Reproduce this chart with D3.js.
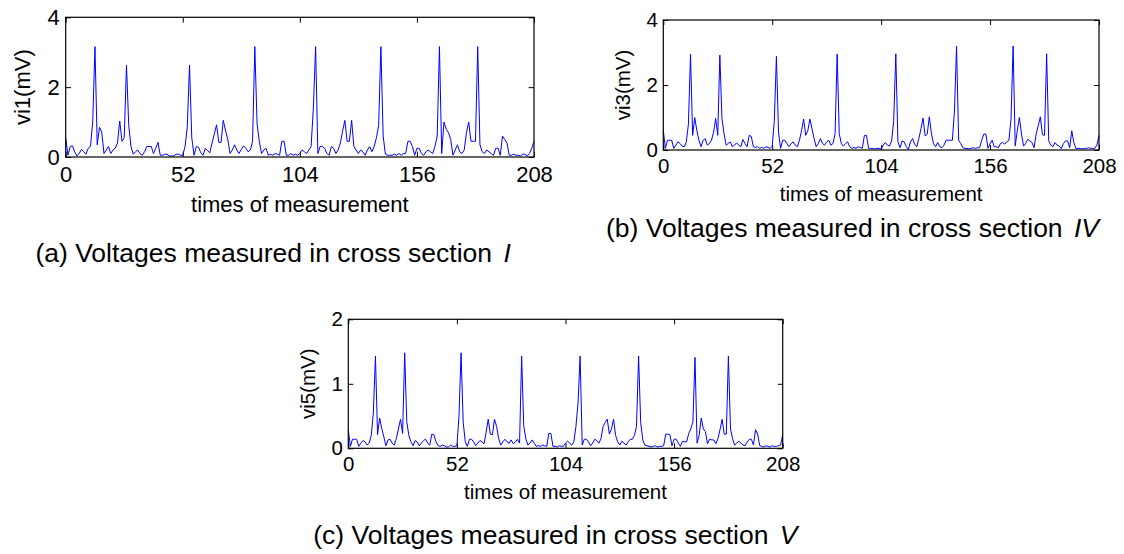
<!DOCTYPE html>
<html>
<head>
<meta charset="utf-8">
<script src="https://cdn.jsdelivr.net/npm/d3@7"></script>
<style>
  html, body { margin: 0; padding: 0; background: #fff; }
  svg { display: block; }
  text { font-family: "Liberation Sans", Arial, Helvetica, sans-serif; fill: #000; }
</style>
</head>
<body>
<svg id="chart"></svg>
<script>
const width = 1124;
const height = 554;

const xTicks = [0, 52, 104, 156, 208];
const yTicksA = [0, 2, 4];
const yTicksB = [0, 2, 4];
const yTicksC = [0, 1, 2];

const vi1 = [
  0.55, 0.05, 0.3, 0.32, 0.15, 0.03, 0.1, 0.22, 0.15, 0.08,
  0.25, 0.3, 1.0, 3.16, 0.35, 0.85, 0.72, 0.1, 0.2, 0.3,
  0.1, 0.2, 0.25, 0.4, 1.03, 0.45, 0.55, 2.63, 0.9, 0.3,
  0.08, 0.15, 0.2, 0.1, 0.05, 0.15, 0.3, 0.3, 0.3, 0.1,
  0.25, 0.42, 0.05, 0.05, 0.08, 0.08, 0.03, 0.03, 0.03, 0.08,
  0.08, 0.05, 0.05, 0.3, 0.85, 2.63, 0.55, 0.05, 0.3, 0.28,
  0.12, 0.05, 0.25, 0.18, 0.12, 0.4, 0.65, 0.92, 0.42, 0.42,
  1.05, 0.75, 0.5, 0.1, 0.2, 0.35, 0.2, 0.1, 0.22, 0.32,
  0.25, 0.15, 0.2, 0.45, 3.16, 0.95, 0.45, 0.1, 0.2, 0.25,
  0.05, 0.08, 0.05, 0.1, 0.08, 0.05, 0.45, 0.45, 0.05, 0.05,
  0.1, 0.05, 0.08, 0.05, 0.1, 0.2, 0.15, 0.1, 0.2, 0.3,
  1.4, 3.16, 0.1, 0.3, 0.3, 0.25, 0.1, 0.05, 0.3, 0.25,
  0.1, 0.2, 0.4, 0.75, 1.05, 0.45, 0.45, 1.05, 0.3, 0.2,
  0.1, 0.2, 0.15, 0.05, 0.2, 0.3, 0.15, 0.3, 0.55, 0.9,
  3.16, 0.6, 0.08, 0.05, 0.05, 0.05, 0.08, 0.05, 0.1, 0.05,
  0.1, 0.1, 0.45, 0.45, 0.3, 0.05, 0.25, 0.25, 0.1, 0.05,
  0.15, 0.2, 0.15, 0.1, 0.3, 0.6, 3.16, 0.1, 1.0, 0.8,
  0.7, 0.5, 0.05, 0.2, 0.35, 0.15, 0.1, 0.2, 0.7, 1.0,
  0.45, 0.45, 0.45, 3.16, 0.35, 0.15, 0.1, 0.2, 0.15, 0.1,
  0.05, 0.25, 0.25, 0.05, 0.6, 0.5, 0.4, 0.05, 0.05, 0.08,
  0.05, 0.05, 0.03, 0.08, 0.08, 0.03, 0.1, 0.25, 0.45
];

const vi3 = [
  0.6, 0.05, 0.3, 0.3, 0.3, 0.05, 0.15, 0.25, 0.2, 0.12,
  0.1, 0.25, 0.8, 2.95, 0.45, 1.0, 0.6, 0.3, 0.1, 0.3,
  0.35, 0.15, 0.2, 0.3, 0.55, 0.97, 0.45, 2.92, 0.97, 0.5,
  0.15, 0.2, 0.25, 0.1, 0.15, 0.22, 0.15, 0.1, 0.32, 0.2,
  0.1, 0.45, 0.42, 0.1, 0.08, 0.1, 0.05, 0.08, 0.05, 0.1,
  0.08, 0.05, 0.12, 0.9, 2.88, 0.55, 0.05, 0.3, 0.3, 0.2,
  0.1, 0.2, 0.25, 0.15, 0.1, 0.3, 0.6, 0.95, 0.45, 0.6,
  0.95, 0.65, 0.35, 0.1, 0.2, 0.35, 0.2, 0.15, 0.25, 0.3,
  0.15, 0.2, 0.5, 2.95, 0.5, 0.2, 0.12, 0.2, 0.25, 0.1,
  0.05, 0.08, 0.05, 0.1, 0.08, 0.05, 0.45, 0.45, 0.05, 0.05,
  0.05, 0.03, 0.05, 0.05, 0.03, 0.15, 0.23, 0.15, 0.12, 0.28,
  0.9, 2.96, 0.25, 0.07, 0.28, 0.25, 0.1, 0.02, 0.25, 0.35,
  0.18, 0.1, 0.35, 0.65, 0.98, 0.43, 0.49, 1.02, 0.5, 0.2,
  0.1, 0.23, 0.1, 0.07, 0.15, 0.3, 0.3, 0.3, 0.3, 1.2,
  3.2, 0.3, 0.2, 0.07, 0.05, 0.05, 0.03, 0.05, 0.07, 0.05,
  0.07, 0.07, 0.3, 0.49, 0.49, 0.05, 0.2, 0.3, 0.1, 0.1,
  0.07, 0.2, 0.23, 0.18, 0.25, 0.3, 0.95, 3.2, 0.12, 0.6,
  1.0, 0.49, 0.12, 0.2, 0.33, 0.28, 0.23, 0.07, 0.49, 0.75,
  1.02, 0.47, 0.45, 2.96, 0.28, 0.15, 0.1, 0.23, 0.15, 0.12,
  0.04, 0.2, 0.28, 0.28, 0.07, 0.59, 0.23, 0.04, 0.05, 0.05,
  0.03, 0.05, 0.05, 0.07, 0.05, 0.05, 0.05, 0.15, 0.45
];

const vi5 = [
  0.28, 0.03, 0.14, 0.14, 0.14, 0.03, 0.08, 0.12, 0.1, 0.05,
  0.08, 0.2, 0.55, 1.43, 0.21, 0.47, 0.31, 0.18, 0.04, 0.13,
  0.14, 0.08, 0.05, 0.15, 0.3, 0.45, 0.23, 1.48, 0.41, 0.2,
  0.1, 0.04, 0.12, 0.1, 0.04, 0.08, 0.12, 0.14, 0.08, 0.05,
  0.22, 0.21, 0.1, 0.04, 0.03, 0.05, 0.04, 0.02, 0.02, 0.05,
  0.03, 0.03, 0.04, 0.5, 1.48, 0.41, 0.1, 0.03, 0.14, 0.14,
  0.1, 0.04, 0.08, 0.12, 0.1, 0.07, 0.25, 0.45, 0.22, 0.21,
  0.45, 0.34, 0.15, 0.05, 0.1, 0.14, 0.1, 0.08, 0.13, 0.07,
  0.1, 0.14, 0.08, 1.43, 0.35, 0.15, 0.05, 0.08, 0.13, 0.08,
  0.03, 0.04, 0.03, 0.05, 0.04, 0.03, 0.23, 0.23, 0.03, 0.03,
  0.02, 0.04, 0.03, 0.03, 0.08, 0.11, 0.08, 0.05, 0.1, 0.34,
  0.7, 1.43, 0.05, 0.14, 0.14, 0.1, 0.04, 0.08, 0.14, 0.12,
  0.08, 0.15, 0.34, 0.4, 0.45, 0.22, 0.3, 0.45, 0.2, 0.1,
  0.05, 0.11, 0.08, 0.05, 0.1, 0.14, 0.14, 0.2, 0.34, 1.43,
  0.4, 0.13, 0.05, 0.04, 0.03, 0.02, 0.03, 0.04, 0.02, 0.03,
  0.03, 0.04, 0.22, 0.22, 0.21, 0.04, 0.14, 0.14, 0.08, 0.03,
  0.11, 0.1, 0.1, 0.23, 0.3, 0.41, 1.41, 0.08, 0.2, 0.47,
  0.3, 0.26, 0.07, 0.14, 0.13, 0.13, 0.07, 0.15, 0.29, 0.45,
  0.22, 0.22, 1.43, 0.3, 0.15, 0.05, 0.08, 0.11, 0.08, 0.05,
  0.04, 0.1, 0.14, 0.14, 0.05, 0.29, 0.22, 0.04, 0.03, 0.02,
  0.04, 0.03, 0.02, 0.04, 0.03, 0.03, 0.04, 0.05, 0.21
];

const xLabel = "times of measurement";

// panel layout (pixel boxes of each plot frame)
const panels = [
  { values: vi1, yMax: 4, yTicks: yTicksA, yLabel: "vi1(mV)",
    left: 65.7, top: 17.3, w: 468.3, h: 139.7, font: 22, s: 1.075 },
  { values: vi3, yMax: 4, yTicks: yTicksB, yLabel: "vi3(mV)",
    left: 663.3, top: 20, w: 435.7, h: 130, font: 20.5, s: 1 },
  { values: vi5, yMax: 2, yTicks: yTicksC, yLabel: "vi5(mV)",
    left: 348.3, top: 319.3, w: 434.4, h: 129, font: 20.5, s: 1 }
];

const captions = [
  { text: "(a) Voltages measured in cross section ", num: "I", x: 35.4, y: 261.5 },
  { text: "(b) Voltages measured in cross section ", num: "IV", x: 606, y: 237.3 },
  { text: "(c) Voltages measured in cross section ", num: "V", x: 313.3, y: 544 }
];

const svg = d3.select("#chart")
  .attr("width", width)
  .attr("height", height)
  .attr("viewBox", [0, 0, width, height]);

svg.append("rect")
  .attr("width", width)
  .attr("height", height)
  .attr("fill", "#fff");

function drawPanel(p) {
  const x = d3.scaleLinear().domain([0, 208]).range([0, p.w]);
  const y = d3.scaleLinear().domain([0, p.yMax]).range([p.h, 0]);
  const tick = 5 * p.s;

  const g = svg.append("g")
    .attr("transform", `translate(${p.left},${p.top})`);

  const styleAxis = sel => {
    sel.select(".domain").remove();
    sel.attr("font-size", p.font)
      .attr("font-family", null);
    sel.selectAll(".tick line").attr("stroke", "#000");
  };

  g.append("g")
    .attr("transform", `translate(0,${p.h})`)
    .call(d3.axisBottom(x).tickValues(xTicks).tickFormat(d3.format("d"))
      .tickSizeInner(-tick).tickSizeOuter(0).tickPadding(8.5 * p.s))
    .call(styleAxis);

  g.append("g")
    .call(d3.axisTop(x).tickValues(xTicks).tickFormat("")
      .tickSizeInner(-tick).tickSizeOuter(0))
    .call(styleAxis);

  g.append("g")
    .call(d3.axisLeft(y).tickValues(p.yTicks).tickFormat(d3.format("d"))
      .tickSizeInner(-tick).tickSizeOuter(0).tickPadding(5.5 * p.s))
    .call(styleAxis);

  g.append("g")
    .attr("transform", `translate(${p.w},0)`)
    .call(d3.axisRight(y).tickValues(p.yTicks).tickFormat("")
      .tickSizeInner(-tick).tickSizeOuter(0))
    .call(styleAxis);

  const line = d3.line()
    .x((d, i) => x(i))
    .y(d => y(d));

  g.append("path")
    .datum(p.values)
    .attr("fill", "none")
    .attr("stroke", "#0000ff")
    .attr("stroke-width", 1)
    .attr("stroke-linejoin", "miter")
    .attr("d", line);

  g.append("rect")
    .attr("width", p.w)
    .attr("height", p.h)
    .attr("fill", "none")
    .attr("stroke", "#000")
    .attr("stroke-width", 1.2);

  g.append("text")
    .attr("x", p.w / 2)
    .attr("y", p.h + 51 * p.s)
    .attr("text-anchor", "middle")
    .attr("font-size", p.font)
    .text(xLabel);

  g.append("text")
    .attr("transform", `translate(${-40 * p.s},${p.h / 2}) rotate(-90)`)
    .attr("dy", "0.35em")
    .attr("text-anchor", "middle")
    .attr("font-size", p.font)
    .text(p.yLabel);
}

panels.forEach(drawPanel);

captions.forEach(c => {
  const t = svg.append("text")
    .attr("x", c.x)
    .attr("y", c.y)
    .attr("font-size", 26.5)
    .attr("xml:space", "preserve");
  t.append("tspan").text(c.text);
  t.append("tspan").attr("font-style", "italic").attr("dx", 4).text(c.num);
});
</script>
</body>
</html>
